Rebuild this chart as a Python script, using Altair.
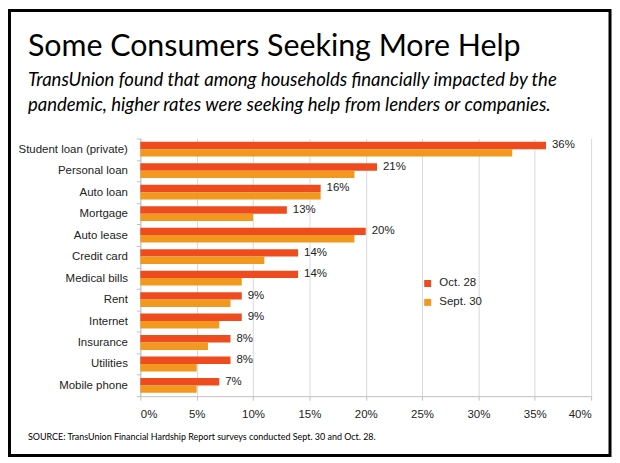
import altair as alt
import pandas as pd

# ---- data ----
categories = ["Student loan (private)", "Personal loan", "Auto loan", "Mortgage",
              "Auto lease", "Credit card", "Medical bills", "Rent", "Internet",
              "Insurance", "Utilities", "Mobile phone"]
series_names = ["Oct. 28", "Sept. 30"]
oct28 = [36, 21, 16, 13, 20, 14, 14, 9, 9, 8, 8, 7]
sept30 = [33, 19, 16, 10, 19, 11, 9, 8, 7, 6, 5, 5]
x_ticks = [0, 5, 10, 15, 20, 25, 30, 35, 40]

title_text = "Some Consumers Seeking More Help"
subtitle_lines = ["TransUnion found that among households financially impacted by the",
                  "pandemic, higher rates were seeking help from lenders or companies."]
source_text = "SOURCE: TransUnion Financial Hardship Report surveys conducted Sept. 30 and Oct. 28."

RED = "#EE4B1F"
ORANGE = "#F2981F"
NARROW = "Lato"
SANS = "Liberation Sans"

rows = []
for c, a, b in zip(categories, oct28, sept30):
    rows.append({"category": c, "series": series_names[0], "value": a})
    rows.append({"category": c, "series": series_names[1], "value": b})
df = pd.DataFrame(rows)

y_enc = alt.Y("category:N", sort=categories,
              scale=alt.Scale(domain=categories, paddingInner=0, paddingOuter=0),
              axis=alt.Axis(title=None, domainColor="#BFBFBF", tickColor="#BFBFBF",
                            tickBand="extent", tickSize=4, labelPadding=9,
                            labelFont=SANS, labelFontSize=11.5, labelColor="#222222",
                            grid=False))
yoff_enc = alt.YOffset("series:N", sort=series_names,
                       scale=alt.Scale(domain=series_names, paddingOuter=0.45, paddingInner=0))
x_enc = alt.X("value:Q", scale=alt.Scale(domain=[0, 40], nice=False),
              axis=alt.Axis(title=None, values=x_ticks, labelExpr="datum.value + '%'",
                            grid=True, gridColor="#D9D9D9", domainColor="#BFBFBF",
                            tickColor="#BFBFBF", tickSize=4, labelPadding=8,
                            labelFont=SANS, labelFontSize=11.5, labelColor="#222222"))

bars = alt.Chart(df).mark_bar().encode(
    x=x_enc,
    y=y_enc,
    yOffset=yoff_enc,
    color=alt.Color("series:N", sort=series_names,
                    scale=alt.Scale(domain=series_names, range=[RED, ORANGE]),
                    legend=alt.Legend(orient="none", legendX=283, legendY=140, title=None,
                                      symbolType="square", symbolSize=49, symbolStrokeWidth=0,
                                      labelFont=SANS, labelFontSize=11.5, labelColor="#222222",
                                      labelOffset=6, rowPadding=6, padding=0)),
)

labels = alt.Chart(df).transform_filter(
    alt.datum.series == series_names[0]
).transform_calculate(lbl="datum.value + '%'").mark_text(
    align="left", baseline="middle", dx=6, font=SANS, fontSize=11.5, color="#222222"
).encode(
    x="value:Q",
    y=alt.Y("category:N", sort=categories),
    yOffset=alt.YOffset("series:N", sort=series_names),
    text="lbl:N",
)

frame = alt.Chart(pd.DataFrame({"k": [0]})).mark_rect(
    filled=False, stroke="black", strokeWidth=3
).encode(x=alt.value(-131.5), x2=alt.value(472), y=alt.value(-128.5), y2=alt.value(318.5))

title_layer = alt.Chart(pd.DataFrame({"t": [title_text]})).mark_text(
    align="left", baseline="alphabetic", font=NARROW, fontSize=30.5, color="black"
).encode(x=alt.value(-113), y=alt.value(-83), text="t:N")

subtitle_layer = alt.Chart(pd.DataFrame({"t": [subtitle_lines]})).mark_text(
    align="left", baseline="alphabetic", font=NARROW, fontSize=18.6, fontStyle="italic",
    lineHeight=25, color="black"
).encode(x=alt.value(-113), y=alt.value(-53), text="t")

source_layer = alt.Chart(pd.DataFrame({"t": [source_text]})).mark_text(
    align="left", baseline="alphabetic", font=NARROW, fontSize=9, color="black"
).encode(x=alt.value(-113), y=alt.value(303), text="t:N")

chart = alt.layer(frame, title_layer, subtitle_layer, source_layer, bars, labels).properties(
    width=453, height=259,
    autosize=alt.AutoSizeParams(type="none"),
    padding={"left": 133, "top": 130, "right": 21, "bottom": 61},
    background="white",
).configure_view(stroke=None)

chart.save("out.html", embed_options={"renderer": "svg", "actions": False})
